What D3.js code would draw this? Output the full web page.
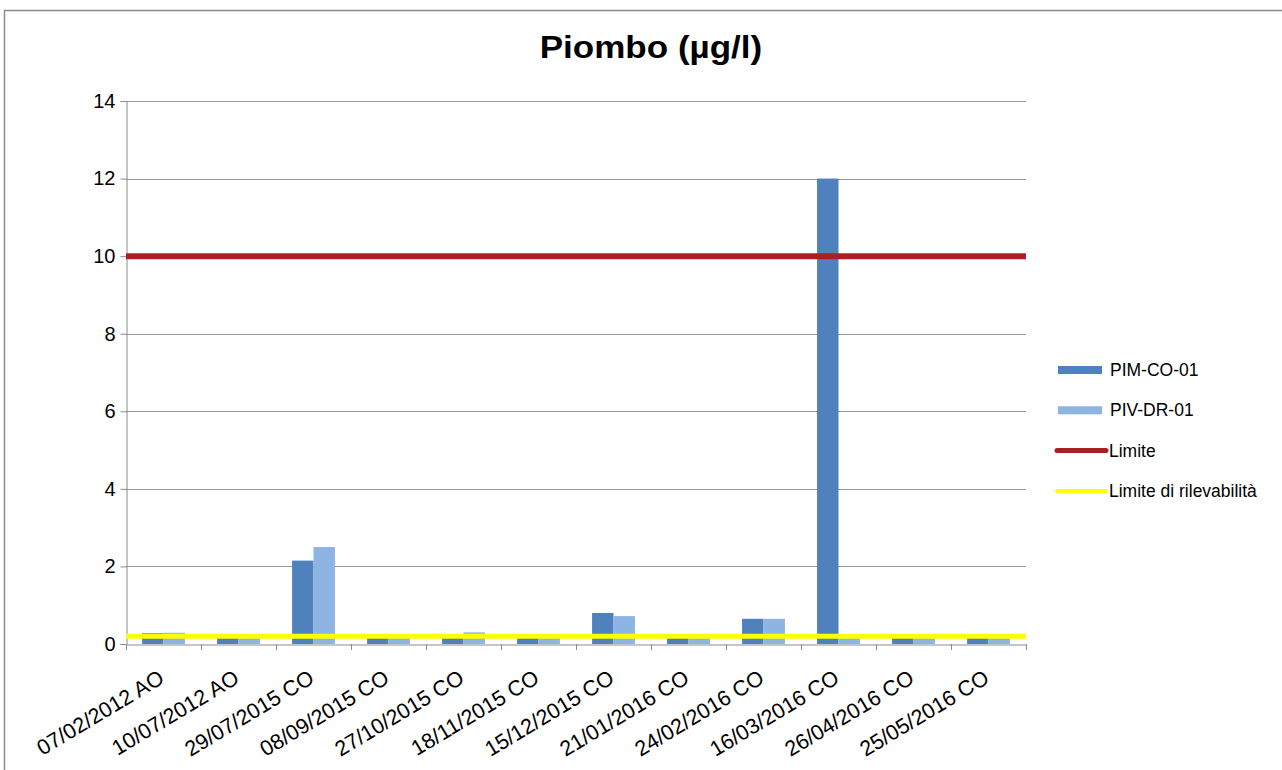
<!DOCTYPE html>
<html>
<head>
<meta charset="utf-8">
<script src="https://cdn.jsdelivr.net/npm/d3@7"></script>
<style>
  body { margin: 0; background: #fff; }
  svg { display: block; font-family: "Liberation Sans", Arial, sans-serif; }
</style>
</head>
<body>
<svg width="1282" height="770"></svg>
<script>
// Data
const categories = [
  '07/02/2012 AO', '10/07/2012 AO', '29/07/2015 CO', '08/09/2015 CO',
  '27/10/2015 CO', '18/11/2015 CO', '15/12/2015 CO', '21/01/2016 CO',
  '24/02/2016 CO', '16/03/2016 CO', '26/04/2016 CO', '25/05/2016 CO',
];
const pimCo01 = [0.28, 0.2, 2.15, 0.2, 0.2, 0.2, 0.8, 0.2, 0.65, 12, 0.2, 0.2];
const pivDr01 = [0.29, 0.2, 2.5, 0.2, 0.3, 0.2, 0.72, 0.2, 0.65, 0.2, 0.2, 0.2];
const limite = 10;
const limiteRilevabilita = 0.2;
const yTicks = [0, 2, 4, 6, 8, 10, 12, 14];

const seriesNames = ['PIM-CO-01', 'PIV-DR-01'];
const colors = { 'PIM-CO-01': '#4f81bd', 'PIV-DR-01': '#8eb4e3' };

const svg = d3.select('svg');

const plotLeft = 126, plotRight = 1026, plotTop = 101, plotBottom = 644;

const x = d3.scaleBand().domain(categories).range([plotLeft, plotRight]).paddingInner(0).paddingOuter(0);
const bw = x.bandwidth() / 3.5; // gap width 150%
const xs = d3.scaleBand().domain(seriesNames).range([0, 2 * bw]);
const y = d3.scaleLinear().domain([0, 14]).range([plotBottom, plotTop]);

// chart frame
svg.append('rect')
  .attr('x', 4.5).attr('y', 10.5)
  .attr('width', 1300).attr('height', 800)
  .attr('fill', 'none').attr('stroke', '#8c8c8c').attr('stroke-width', 1.5);

// title (slightly widened like the source)
svg.append('text')
  .attr('transform', 'translate(651,58) scale(1.13,1)')
  .attr('text-anchor', 'middle')
  .attr('font-size', 31).attr('font-weight', 'bold')
  .text('Piombo (µg/l)');

// gridlines
svg.append('g')
  .selectAll('line')
  .data(yTicks.filter(t => t > 0))
  .enter().append('line')
    .attr('x1', plotLeft).attr('x2', plotRight)
    .attr('y1', d => Math.round(y(d)) + 0.5).attr('y2', d => Math.round(y(d)) + 0.5)
    .attr('stroke', '#999').attr('stroke-width', 1);

// y axis
const yAxis = svg.append('g')
  .attr('transform', `translate(${plotLeft + 0.5},0)`)
  .call(d3.axisLeft(y).tickValues(yTicks).tickSize(6).tickPadding(5));
yAxis.select('.domain').attr('stroke', '#8c8c8c');
yAxis.selectAll('.tick line').attr('stroke', '#8c8c8c');
yAxis.selectAll('text').attr('font-size', 20).attr('fill', '#000')
  .attr('font-family', '"Liberation Sans", Arial, sans-serif');

// bars
const groups = svg.append('g')
  .selectAll('g')
  .data(categories)
  .enter().append('g')
    .attr('transform', d => `translate(${x(d) + (x.bandwidth() - 2 * bw) / 2},0)`);

groups.selectAll('rect')
  .data((d, i) => [
    { s: 'PIM-CO-01', v: pimCo01[i] },
    { s: 'PIV-DR-01', v: pivDr01[i] },
  ])
  .enter().append('rect')
    .attr('x', d => xs(d.s))
    .attr('width', bw)
    .attr('y', d => y(d.v))
    .attr('height', d => y(0) - y(d.v))
    .attr('fill', d => colors[d.s]);

// x axis
const xAxis = svg.append('g')
  .attr('transform', `translate(0,${plotBottom + 0.5})`)
  .call(d3.axisBottom(x).tickSize(0).tickPadding(0));
xAxis.select('.domain').attr('stroke', '#8c8c8c');
xAxis.selectAll('.tick text').remove();

svg.append('g')
  .selectAll('line')
  .data(categories.map(c => x(c)).concat([plotRight]))
  .enter().append('line')
    .attr('x1', d => Math.round(d) + 0.5).attr('x2', d => Math.round(d) + 0.5)
    .attr('y1', plotBottom).attr('y2', plotBottom + 6)
    .attr('stroke', '#8c8c8c');

svg.append('g')
  .selectAll('text')
  .data(categories)
  .enter().append('text')
    .attr('transform', d => `translate(${x(d) + x.bandwidth() / 2 + 2},${plotBottom + 38}) rotate(-31)`)
    .attr('text-anchor', 'end')
    .attr('font-size', 21.5)
    .text(d => d);

// limit lines
svg.append('line')
  .attr('x1', plotLeft).attr('x2', plotRight)
  .attr('y1', y(limite)).attr('y2', y(limite))
  .attr('stroke', '#aa1f24').attr('stroke-width', 6);

svg.append('line')
  .attr('x1', plotLeft).attr('x2', plotRight)
  .attr('y1', y(limiteRilevabilita)).attr('y2', y(limiteRilevabilita))
  .attr('stroke', '#ffff00').attr('stroke-width', 5);

// legend
const legendItems = [
  { name: 'PIM-CO-01', type: 'bar', color: colors['PIM-CO-01'] },
  { name: 'PIV-DR-01', type: 'bar', color: colors['PIV-DR-01'] },
  { name: 'Limite', type: 'line', color: '#aa1f24', w: 5 },
  { name: 'Limite di rilevabilità', type: 'line', color: '#ffff00', w: 4 },
];
const legend = svg.append('g')
  .selectAll('g')
  .data(legendItems)
  .enter().append('g')
    .attr('transform', (d, i) => `translate(0,${370 + i * 40.3})`);

legend.filter(d => d.type === 'bar').append('rect')
  .attr('x', 1058).attr('y', -4).attr('width', 44).attr('height', 8)
  .attr('fill', d => d.color);
legend.filter(d => d.type === 'bar').append('text')
  .attr('x', 1110).attr('y', 6).attr('font-size', 17.5).text(d => d.name);

legend.filter(d => d.type === 'line').append('line')
  .attr('x1', 1057).attr('x2', 1106).attr('y1', 0).attr('y2', 0)
  .attr('stroke', d => d.color).attr('stroke-width', d => d.w)
  .attr('stroke-linecap', 'round');
legend.filter(d => d.type === 'line').append('text')
  .attr('x', 1109).attr('y', 6).attr('font-size', 17.5).text(d => d.name);
</script>
</body>
</html>
